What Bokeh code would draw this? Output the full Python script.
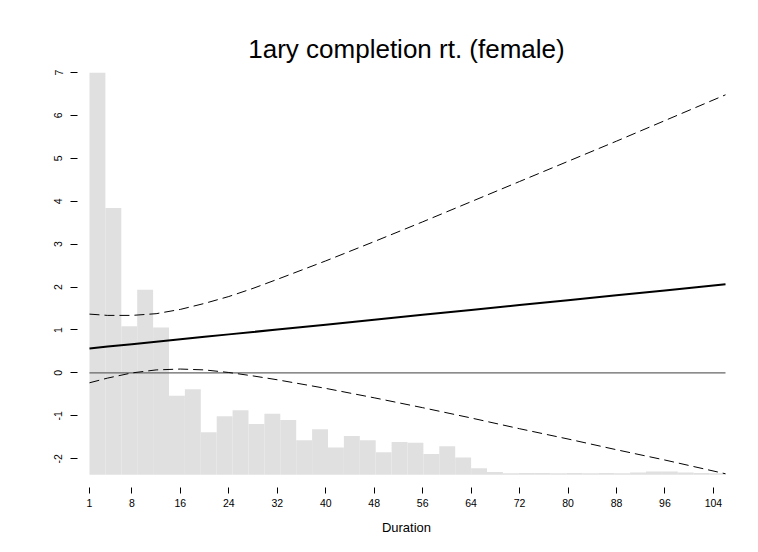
import numpy as np
from bokeh.plotting import figure
from bokeh.models import Range1d, FixedTicker, ColumnDataSource
from bokeh.embed import file_html
from bokeh.resources import INLINE

# ---- data ----
title_text = "1ary completion rt. (female)"
x_label = "Duration"
x_ticks = [1, 8, 16, 24, 32, 40, 48, 56, 64, 72, 80, 88, 96, 104]
y_ticks = [-2, -1, 0, 1, 2, 3, 4, 5, 6, 7]
y_tick_labels = ["-2", "-1", "0", "1", "2", "3", "4", "5", "6", "7"]

# histogram of durations (40 bins over 1..106), heights in axis units
hist_lo, hist_hi, n_bins = 1, 106, 40
hist_base = -2.37
hist_tops = [7.0, 3.84, 1.09, 1.94, 1.06, -0.53, -0.38, -1.38, -1.01, -0.87,
             -1.19, -0.95, -1.10, -1.57, -1.31, -1.74, -1.47, -1.57, -1.85, -1.61,
             -1.63, -1.89, -1.71, -1.97, -2.22, -2.31, -2.34, -2.33, -2.33, -2.34,
             -2.33, -2.34, -2.33, -2.34, -2.32, -2.30, -2.30, -2.32, -2.33, -2.34]

# estimated effect and confidence band
fit_x = [1, 4, 8, 12, 16, 20, 24, 28, 32, 40, 48, 56, 64, 72, 80, 88, 96, 106]
fit_y = [0.570, 0.613, 0.670, 0.727, 0.784, 0.841, 0.898, 0.954, 1.011, 1.125,
         1.239, 1.353, 1.467, 1.581, 1.695, 1.809, 1.923, 2.065]
upper_y = [1.37, 1.34, 1.34, 1.38, 1.48, 1.62, 1.78, 1.97, 2.18, 2.61, 3.06, 3.52,
           3.99, 4.46, 4.93, 5.40, 5.88, 6.48]
lower_y = [-0.23, -0.12, 0.00, 0.07, 0.09, 0.07, 0.01, -0.07, -0.16, -0.36, -0.58,
           -0.81, -1.05, -1.30, -1.54, -1.79, -2.03, -2.35]

edges = np.linspace(hist_lo, hist_hi, n_bins + 1)
hist_src = ColumnDataSource(dict(left=edges[:-1], right=edges[1:],
                                 top=hist_tops, bottom=[hist_base] * n_bins))

FONT = "Liberation Sans"

p = figure(width=758, height=552, output_backend="svg", toolbar_location=None,
           x_range=Range1d(-0.98, 107.65), y_range=Range1d(-2.67, 7.0),
           min_border_left=77, min_border_right=23, min_border_top=72,
           min_border_bottom=65)
p.background_fill_color = "white"
p.border_fill_color = "white"
p.outline_line_color = None
p.xgrid.visible = False
p.ygrid.visible = False

p.quad(left="left", right="right", top="top", bottom="bottom", source=hist_src,
       fill_color="#e0e0e0", line_color=None)

p.segment(x0=[fit_x[0]], y0=[0], x1=[fit_x[-1]], y1=[0], line_color="#666666",
          line_width=1.4)
p.line(fit_x, upper_y, line_color="black", line_width=1, line_dash="10 5")
p.line(fit_x, lower_y, line_color="black", line_width=1, line_dash="10 5")
p.line(fit_x, fit_y, line_color="black", line_width=2)

# title
p.title.text = title_text
p.title.align = "center"
p.title.text_font = FONT
p.title.text_font_size = "26px"
p.title.text_font_style = "normal"
p.title.text_color = "black"
p.title.standoff = 18

# x axis
xa = p.xaxis[0]
xa.ticker = FixedTicker(ticks=x_ticks)
xa.axis_line_color = None
xa.minor_tick_line_color = None
xa.major_tick_in = 0
xa.major_tick_out = 6
xa.major_tick_line_color = "black"
xa.major_label_text_font = FONT
xa.major_label_text_font_size = "10.5px"
xa.major_label_text_color = "black"
xa.major_label_standoff = 5
xa.axis_label = x_label
xa.axis_label_text_font = FONT
xa.axis_label_text_font_style = "normal"
xa.axis_label_text_font_size = "13px"
xa.axis_label_text_color = "black"
xa.axis_label_standoff = 10

# y axis
ya = p.yaxis[0]
ya.ticker = FixedTicker(ticks=y_ticks)
ya.major_label_overrides = {t: s for t, s in zip(y_ticks, y_tick_labels)}
ya.axis_line_color = None
ya.minor_tick_line_color = None
ya.major_tick_in = 0
ya.major_tick_out = 7
ya.major_tick_line_color = "black"
ya.major_label_orientation = "vertical"
ya.major_label_text_font = FONT
ya.major_label_text_font_size = "10.5px"
ya.major_label_text_color = "black"
ya.major_label_standoff = 8

open("out.html", "w").write(file_html(p, INLINE))
